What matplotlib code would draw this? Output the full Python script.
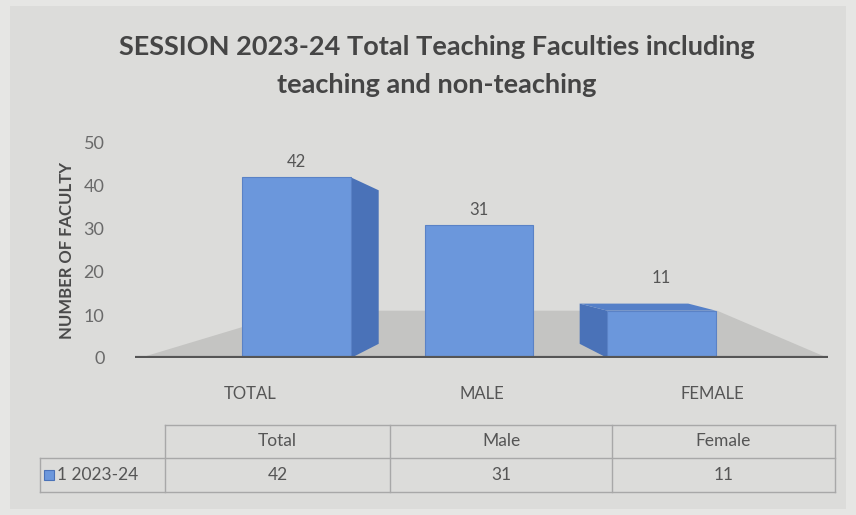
import numpy as np
import matplotlib.pyplot as plt
from matplotlib.patches import Polygon, Rectangle

# =========================
# Data
# =========================
categories = ["TOTAL", "MALE", "FEMALE"]
table_headers = ["Total", "Male", "Female"]
values = [42, 31, 11]
series_name = "1 2023-24"
yticks = [0, 10, 20, 30, 40, 50]

# =========================
# Style
# =========================
bg = "#dcdcda"
front_c = "#6b97dc"
side_c = "#4a72b8"
top_c = "#5580c8"
floor_c = "#c4c4c2"
text_c = "#555555"

plt.rcParams.update({
    "font.family": ["Lato", "DejaVu Sans"],
})

fig = plt.figure(figsize=(8.56, 5.15), dpi=100, facecolor="#e6e6e4")
# chart area background
fig.patches.append(Rectangle((0.012, 0.012), 0.976, 0.976, transform=fig.transFigure,
                             facecolor=bg, edgecolor="none", zorder=-10))

ax = fig.add_axes([135 / 856, 1 - 358 / 515, (828 - 135) / 856, (358 - 143) / 515])
ax.set_facecolor("none")
ax.set_xlim(-0.5, 2.5)
ax.set_ylim(0, 50)

x = np.arange(len(categories))
# fake perspective: bars pulled toward the centre, depth faces point away from it
bar_pos = 0.2 + 0.79 * x
width = 0.47
eye, k = 22, 0.15

# floor
x0, x1 = ax.get_xlim()
floor = Polygon([(x0 + 0.02, 0), (x1, 0), (x1 - 0.48, 11), (x0 + 0.7, 11)],
                closed=True, facecolor=floor_c, edgecolor="none", zorder=1)
ax.add_patch(floor)

bars = ax.bar(bar_pos, values, width=width, color=front_c, edgecolor="#5a82c6",
              linewidth=0.8, zorder=3)

for i, (b, v) in enumerate(zip(bars, values)):
    l = b.get_x()
    r = l + b.get_width()
    dx = 0.12 * (1 - x[i])
    dy_top = k * (eye - v)
    dy_bot = k * eye
    if dx != 0:
        edge = r if dx > 0 else l
        side = Polygon([(edge, 0), (edge + dx, dy_bot), (edge + dx, v + dy_top), (edge, v)],
                       closed=True, facecolor=side_c, edgecolor="none", zorder=2)
        ax.add_patch(side)
    if dy_top > 0:
        top = Polygon([(l, v), (l + dx, v + dy_top), (r + dx, v + dy_top), (r, v)],
                      closed=True, facecolor=top_c, edgecolor="none", zorder=2)
        ax.add_patch(top)
    ax.text(b.get_x() + b.get_width() / 2, v + 3.5 + 2.5 * max(dy_top, 0), str(v),
            ha="center", va="center", fontsize=12, color=text_c)

ax.axhline(0, color="#555555", linewidth=3, zorder=4)

ax.set_yticks(yticks)
ax.set_yticklabels([str(t) for t in yticks], fontsize=13, color="#6a6a6a")
ax.set_xticks(x)
ax.set_xticklabels(categories, fontsize=12, color=text_c)
ax.tick_params(axis="both", length=0)
ax.tick_params(axis="x", pad=20)
ax.tick_params(axis="y", pad=22)
for s in ax.spines.values():
    s.set_visible(False)
ax.set_ylabel("NUMBER OF FACULTY", fontsize=12, fontweight="bold", color="#4a4a4a", labelpad=6)

fig.text(437 / 856, 1 - 47 / 515, "SESSION 2023-24 Total Teaching Faculties including",
         ha="center", va="center", fontsize=19.5, fontweight="bold", color="#454545")
fig.text(437 / 856, 1 - 85 / 515, "teaching and non-teaching",
         ha="center", va="center", fontsize=19.5, fontweight="bold", color="#454545")

# =========================
# Data table
# =========================
def fx(px):
    return px / 856

def fy(py):
    return 1 - py / 515

col_edges = [165, 390, 612, 835]
row_top, row_mid, row_bot = 425, 458, 492
lbl_left = 40
lc = "#a8a8a8"
lw = 1.0

def hline(xa, xb, yy):
    fig.add_artist(plt.Line2D([fx(xa), fx(xb)], [fy(yy), fy(yy)], color=lc, linewidth=lw))

def vline(xx, ya, yb):
    fig.add_artist(plt.Line2D([fx(xx), fx(xx)], [fy(ya), fy(yb)], color=lc, linewidth=lw))

hline(col_edges[0], col_edges[-1], row_top)
hline(lbl_left, col_edges[-1], row_mid)
hline(lbl_left, col_edges[-1], row_bot)
for ce in col_edges:
    vline(ce, row_top, row_bot)
vline(lbl_left, row_mid, row_bot)

for i, (h, v) in enumerate(zip(table_headers, values)):
    cx = (col_edges[i] + col_edges[i + 1]) / 2
    fig.text(fx(cx), fy((row_top + row_mid) / 2), h, ha="center", va="center",
             fontsize=12.5, color=text_c)
    fig.text(fx(cx), fy((row_mid + row_bot) / 2), str(v), ha="center", va="center",
             fontsize=12.5, color=text_c)

fig.patches.append(Rectangle((fx(44), fy(480)), fx(10), 10 / 515, transform=fig.transFigure,
                             facecolor=front_c, edgecolor="#4a72b8", linewidth=0.8))
fig.text(fx(57), fy((row_mid + row_bot) / 2), series_name, ha="left", va="center",
         fontsize=12.5, color=text_c)

fig.savefig("out.png", dpi=100, facecolor=fig.get_facecolor())
